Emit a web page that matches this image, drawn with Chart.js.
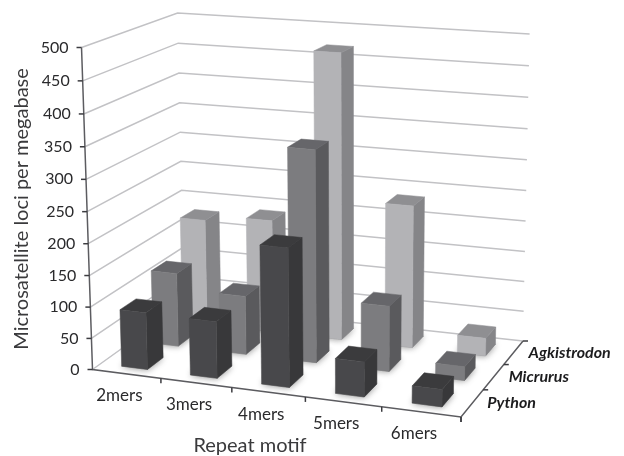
<!DOCTYPE html>
<html>
<head>
<meta charset="utf-8">
<title>Microsatellite loci per megabase</title>
<script src="https://cdn.jsdelivr.net/npm/chart.js@4/dist/chart.umd.min.js"></script>
<style>
    html, body { margin: 0; padding: 0; background: #fff; }
    canvas { display: block; }
</style>
</head>
<body>
<canvas id="lociChart" width="624" height="456"></canvas>
<script>
// 数据
const motifs = ['2mers', '3mers', '4mers', '5mers', '6mers'];
const species = ['Python', 'Micrurus', 'Agkistrodon'];
const python = [91, 90, 218, 55, 27];
const micrurus = [120, 95, 340, 105, 22];
const agkistrodon = [177, 187, 468, 233, 29];
const valueTicks = { min: 0, max: 500, step: 50 };

// 每个系列三个面的颜色
const frontColors = ['#48484b', '#7c7c7f', '#b3b3b6'];
const sideColors = ['#38383a', '#5a5a5d', '#858588'];
const topColors = ['#3b3b3d', '#66666a', '#8f8f92'];

// 三维框架：底面四角、四角处 0 到 500 的高度、竖线的灭点
const floorQuad = [[92.5, 369.5], [461, 417], [523, 341], [184, 304]];
const cornerHeights = [322, 336, 307, 291];
const verticalVanish = [356, 8097];
const heightBend = 1.04;
const depthRatio = 0.5;

// 单位正方形到四边形的透视映射
function squareToQuad(q) {
    const [[x0, y0], [x1, y1], [x2, y2], [x3, y3]] = q;
    const dx1 = x1 - x2, dx2 = x3 - x2, sx = x0 - x1 + x2 - x3;
    const dy1 = y1 - y2, dy2 = y3 - y2, sy = y0 - y1 + y2 - y3;
    const den = dx1 * dy2 - dx2 * dy1;
    const g = (sx * dy2 - dx2 * sy) / den;
    const h = (dx1 * sy - sx * dy1) / den;
    const a = x1 - x0 + g * x1, b = x3 - x0 + h * x3;
    const d = y1 - y0 + g * y1, e = y3 - y0 + h * y3;
    return (u, v) => {
        const w = g * u + h * v + 1;
        return [(a * u + b * v + x0) / w, (d * u + e * v + y0) / w];
    };
}
const floorMap = squareToQuad(floorQuad);

// 把图表内的平面坐标 (x, depth, y) 投影到画布
function project(chart, px, pz, py) {
    const area = chart.chartArea;
    const u = (px - area.left) / area.width;
    const v = (pz - area.left) / area.width;
    const t = (area.bottom - py) / area.height;
    const s = t / (t + heightBend * (1 - t));
    const f = floorMap(u, v);
    const [h0, h1, h2, h3] = cornerHeights;
    const full = (1 - v) * ((1 - u) * h0 + u * h1) + v * ((1 - u) * h3 + u * h2);
    // 竖线朝灭点收拢
    const lean = (verticalVanish[0] - f[0]) / (verticalVanish[1] - f[1]);
    return [f[0] - lean * full * s, f[1] - full * s];
}

function polyline(ctx, pts) {
    ctx.beginPath();
    pts.forEach((p, i) => i ? ctx.lineTo(p[0], p[1]) : ctx.moveTo(p[0], p[1]));
}

function fillFace(ctx, pts, color) {
    polyline(ctx, pts);
    ctx.closePath();
    ctx.fillStyle = color;
    ctx.fill();
    ctx.strokeStyle = color;
    ctx.lineWidth = 0.5;
    ctx.stroke();
}

// 网格、坐标轴和文字
const frame3d = {
    id: 'frame3d',
    beforeDatasetsDraw(chart) {
        const { ctx, chartArea: area, scales } = chart;
        const xs = scales.x, ys = scales.y, zs = scales.depth;
        const x0 = area.left, x1 = area.right, z0 = area.left, z1 = area.right;
        ctx.save();

        // 墙面网格线
        ctx.strokeStyle = '#c2c2c5';
        ctx.lineWidth = 1.5;
        ys.ticks.forEach(tick => {
            const py = ys.getPixelForValue(tick.value);
            polyline(ctx, [project(chart, x0, z0, py), project(chart, x0, z1, py), project(chart, x1, z1, py)]);
            ctx.stroke();
        });

        // 坐标轴
        const yBottom = ys.getPixelForValue(valueTicks.min);
        const yTop = ys.getPixelForValue(valueTicks.max);
        ctx.strokeStyle = '#5c5c60';
        ctx.lineWidth = 1.5;
        polyline(ctx, [project(chart, x0, z0, yTop), project(chart, x0, z0, yBottom), project(chart, x1, z0, yBottom), project(chart, x1, z1, yBottom)]);
        ctx.stroke();

        // 数值刻度
        ctx.fillStyle = '#2a2a2c';
        ctx.font = '16px Lato';
        ctx.textAlign = 'right';
        ctx.textBaseline = 'middle';
        ys.ticks.forEach(tick => {
            const p = project(chart, x0, z0, ys.getPixelForValue(tick.value));
            polyline(ctx, [p, [p[0] - 5, p[1]]]);
            ctx.strokeStyle = '#3c3c40';
            ctx.stroke();
            ctx.fillText(String(tick.value), p[0] - 13, p[1]);
        });

        // 类别刻度和标签
        ctx.textAlign = 'center';
        ctx.font = '17px Lato';
        motifs.forEach((name, i) => {
            const p = project(chart, xs.getPixelForValue(i + 0.5), z0, yBottom);
            polyline(ctx, [p, [p[0], p[1] + 5]]);
            ctx.stroke();
            const c = project(chart, xs.getPixelForValue(i), z0, yBottom);
            ctx.fillText(name, c[0] - 7, c[1] + 22);
        });

        // 深度刻度和系列标签
        ctx.textAlign = 'left';
        ctx.font = 'italic bold 16px Lato';
        ctx.fillStyle = '#1c1c1e';
        species.forEach((name, i) => {
            const p = project(chart, x1, zs.getPixelForValue(i + 0.5), yBottom);
            polyline(ctx, [p, [p[0] + 5, p[1]]]);
            ctx.stroke();
            const c = project(chart, x1, zs.getPixelForValue(i), yBottom);
            ctx.fillText(name, c[0] + 15, c[1]);
        });
        const last = project(chart, x1, z0, yBottom);
        polyline(ctx, [last, [last[0], last[1] + 5]]);
        ctx.stroke();

        // 轴标题
        ctx.fillStyle = '#3a3a3c';
        ctx.font = '20px Lato';
        ctx.textAlign = 'center';
        ctx.fillText('Repeat motif', 250, 446);
        ctx.translate(22, 209);
        ctx.rotate(-Math.PI / 2);
        ctx.fillText('Microsatellite loci per megabase', 0, 0);
        ctx.restore();
    },
    afterDatasetsDraw(chart) {
        const { ctx, scales } = chart;
        const zs = scales.depth;
        const halfDepth = zs.width / species.length * depthRatio / 2;
        ctx.save();
        // 从后往前画柱子
        for (let i = species.length - 1; i >= 0; i--) {
            const zc = zs.getPixelForValue(i);
            const zf = zc - halfDepth, zb = zc + halfDepth;
            chart.getDatasetMeta(i).data.forEach(bar => {
                const l = bar.x - bar.width / 2, r = bar.x + bar.width / 2;
                const P = (x, z, y) => project(chart, x, z, y);
                // 柱底的软阴影
                ctx.save();
                ctx.shadowColor = 'rgba(0,0,0,0.45)';
                ctx.shadowBlur = 7;
                fillFace(ctx, [P(l, zf, bar.base), P(r, zf, bar.base), P(r, zb, bar.base), P(l, zb, bar.base)], '#999');
                ctx.restore();
                fillFace(ctx, [P(r, zf, bar.base), P(r, zb, bar.base), P(r, zb, bar.y), P(r, zf, bar.y)], sideColors[i]);
                fillFace(ctx, [P(l, zf, bar.y), P(r, zf, bar.y), P(r, zb, bar.y), P(l, zb, bar.y)], topColors[i]);
                fillFace(ctx, [P(l, zf, bar.base), P(r, zf, bar.base), P(r, zf, bar.y), P(l, zf, bar.y)], frontColors[i]);
            });
        }
        ctx.restore();
    }
};

// 初始化图表
function initChart() {
    const seriesValues = [python, micrurus, agkistrodon];
    return new Chart(document.getElementById('lociChart').getContext('2d'), {
        type: 'bar',
        data: {
            labels: motifs,
            // 柱子由 frame3d 插件按元素的位置投影绘制
            datasets: species.map((name, i) => ({
                label: name,
                data: seriesValues[i],
                backgroundColor: 'transparent',
                grouped: false,
                barPercentage: 0.38,
                categoryPercentage: 1
            }))
        },
        options: {
            responsive: false,
            animation: false,
            events: [],
            layout: { padding: 0 },
            plugins: { legend: { display: false }, tooltip: { enabled: false } },
            scales: {
                x: { display: false },
                depth: { type: 'category', axis: 'x', position: 'bottom', labels: species, offset: true, display: false },
                y: {
                    display: false,
                    min: valueTicks.min,
                    max: valueTicks.max,
                    ticks: { stepSize: valueTicks.step }
                }
            }
        },
        plugins: [frame3d]
    });
}

initChart();
</script>
</body>
</html>
